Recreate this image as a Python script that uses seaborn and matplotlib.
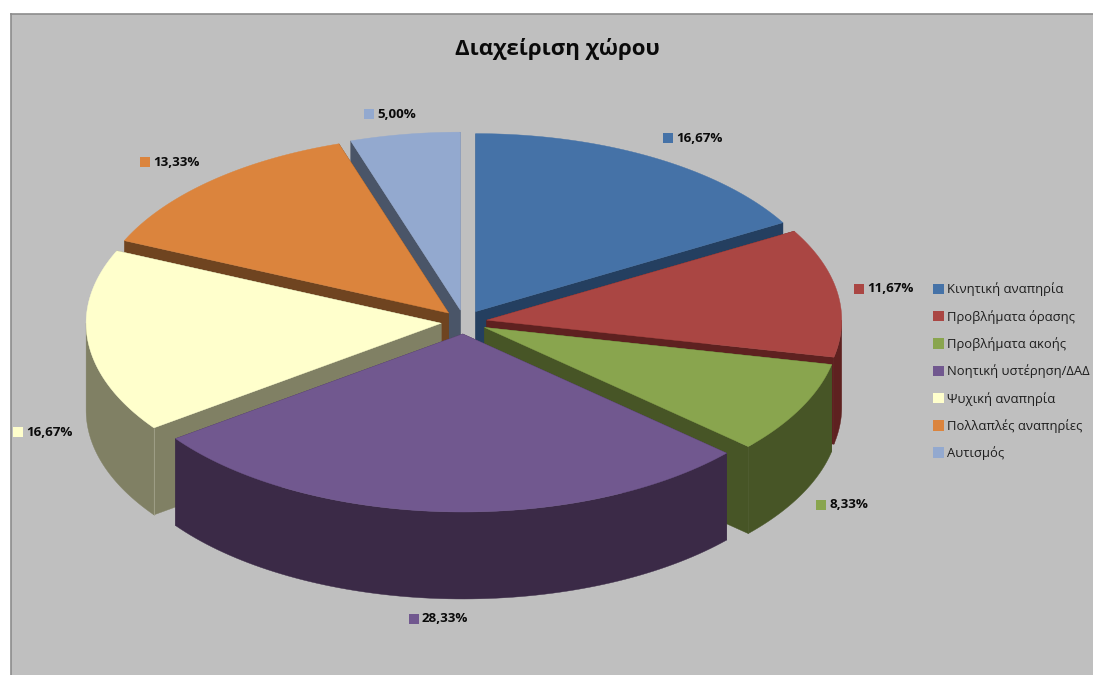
import numpy as np
import matplotlib
matplotlib.use('Agg')
import matplotlib.pyplot as plt
from matplotlib.patches import Patch
import seaborn as sns

# data
categories = ['Κινητική αναπηρία', 'Προβλήματα όρασης', 'Προβλήματα ακοής',
              'Νοητική υστέρηση/ΔΑΔ', 'Ψυχική αναπηρία', 'Πολλαπλές αναπηρίες', 'Αυτισμός']
values = [16.67, 11.67, 8.33, 28.33, 16.67, 13.33, 5.00]
title = 'Διαχείριση χώρου'

top_colors = ['#4572A7', '#AA4643', '#89A54E', '#71588F', '#FFFFCC', '#DB843D', '#93A9CF']
side_colors = ['#243F60', '#5E2120', '#475526', '#3B2A47', '#808064', '#6F4420', '#4A5568']

# pie geometry in pixels
CX, CY = 464, 322
RX, RY = 355, 178
DEPTH = 87
EXPLODE_X, EXPLODE_Y = 23, 12
BG = '#BFBFBF'

sns.set_theme(style='white')
plt.rcParams['font.family'] = ['Open Sans', 'DejaVu Sans']

fig = plt.figure(figsize=(10.93, 6.75), dpi=100, facecolor='white')
ax = fig.add_axes([11 / 1093, 0, 1082 / 1093, 661 / 675], facecolor=BG)
ax.set_xlim(11, 1093)
ax.set_ylim(675, 14)
ax.set_xticks([])
ax.set_yticks([])
sns.despine(ax=ax, top=False, left=False, right=True, bottom=True)
for side in ['top', 'left']:
    ax.spines[side].set_color('#8C8C8C')
    ax.spines[side].set_linewidth(1.2)

# slice angles, clockwise from the top of the ellipse
edges = np.cumsum([0] + values) / sum(values) * 360
slices = []
for i in range(len(values)):
    a0, a1 = edges[i], edges[i + 1]
    mid = np.radians((a0 + a1) / 2)
    slices.append((i, a0, a1, CX + EXPLODE_X * np.sin(mid), CY - EXPLODE_Y * np.cos(mid), np.cos(mid)))
# back slices first so the front ones paint over them
slices.sort(key=lambda s: -s[5])


def rim(ox, oy, a0, a1, n=80):
    t = np.radians(np.linspace(a0, a1, n))
    return ox + RX * np.sin(t), oy - RY * np.cos(t)


for i, a0, a1, ox, oy, _ in slices:
    side = side_colors[i]
    # the two cut walls
    for a in (a0, a1):
        ex, ey = rim(ox, oy, a, a, 1)
        ax.fill([ox, ex[0], ex[0], ox], [oy, ey[0], ey[0] + DEPTH, oy + DEPTH],
                color=side, lw=0.3, zorder=2)
    # outer wall, only the part facing the viewer
    lo, hi = max(a0, 90), min(a1, 270)
    if lo < hi:
        rx, ry = rim(ox, oy, lo, hi)
        ax.fill(np.r_[rx, rx[::-1]], np.r_[ry, ry[::-1] + DEPTH], color=side, lw=0.3, zorder=2)
    # lighter seam where the cut wall meets the rim
    if 180 < a0 < 270:
        ex, ey = rim(ox, oy, a0, a0, 1)
        ax.plot([ex[0], ex[0]], [ey[0], ey[0] + DEPTH], color='#A3A38C', lw=0.6, zorder=2)
    # top face
    tx, ty = rim(ox, oy, a0, a1)
    ax.fill(np.r_[ox, tx], np.r_[oy, ty], color=top_colors[i], lw=0.3, zorder=2)

# data labels with their colour key
label_pos = [(668, 138), (859, 289), (821, 505), (414, 619), (18, 432), (145, 162), (369, 114)]
for i, (x, y) in enumerate(label_pos):
    ax.scatter([x], [y], marker='s', s=62, color=top_colors[i], linewidths=0, zorder=5)
    ax.text(x + 8, y, f'{values[i]:.2f}%'.replace('.', ','), fontsize=9.6, fontweight='bold',
            color='#0A0A0A', ha='left', va='center', zorder=5)

ax.text(557, 49, title, fontsize=16, fontweight='bold', color='#0A0A0A', ha='center', va='center')

handles = [Patch(facecolor=c, edgecolor='none') for c in top_colors]
leg = ax.legend(handles, categories, loc='upper left', bbox_to_anchor=(928, 278),
                bbox_transform=ax.transData, frameon=False, fontsize=9.4,
                handlelength=0.85, handleheight=0.85, handletextpad=0.25,
                labelspacing=1.03, borderpad=0.35, borderaxespad=0, labelcolor='#1E1E1E')

fig.savefig('out.png', dpi=100)
